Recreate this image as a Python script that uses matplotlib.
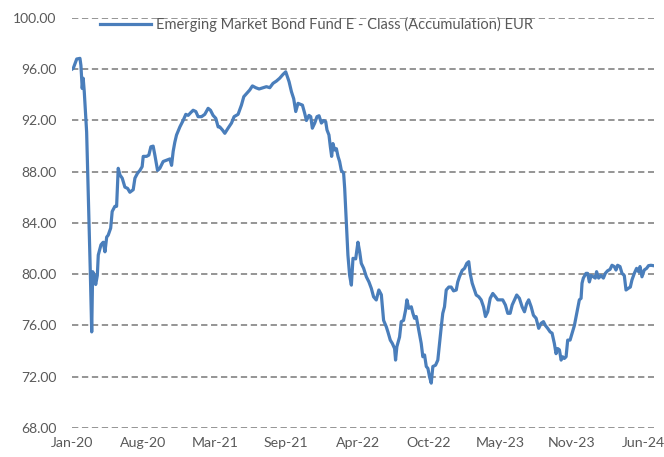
import matplotlib
matplotlib.use("Agg")
import matplotlib.pyplot as plt
import numpy as np

# months since the start of Jan-20, and the fund price
months = [
    0.0, 0.12, 0.44, 0.74, 0.83, 0.95, 1.04, 1.14, 1.36, 1.58, 1.70, 1.83, 1.92, 2.07, 2.20,
    2.35, 2.44, 2.69, 2.90, 3.06, 3.22, 3.36, 3.59, 3.73, 3.98, 4.14, 4.29, 4.45, 4.66, 4.91,
    5.16, 5.37, 5.68, 5.84, 6.09, 6.30, 6.51, 6.61, 6.92, 7.13, 7.32, 7.53, 7.69, 7.94, 8.15,
    8.46, 8.77, 9.08, 9.24, 9.39, 9.54, 9.70, 10.01, 10.31, 10.56, 10.78, 11.00, 11.24, 11.49,
    11.70, 12.02, 12.32, 12.63, 12.85, 13.09, 13.34, 13.56, 13.71, 13.96, 14.18, 14.48, 14.80,
    15.04, 15.41, 15.72, 15.94, 16.19, 16.49, 16.74, 17.05, 17.36, 17.73, 18.04, 18.35, 18.65,
    18.97, 19.27, 19.58, 19.83, 20.14, 20.36, 20.57, 20.76, 20.97, 21.19, 21.38, 21.59, 21.75,
    21.99, 22.15, 22.30, 22.52, 22.73, 22.92, 23.14, 23.35, 23.54, 23.66, 23.84, 23.97, 24.09,
    24.21, 24.37, 24.53, 24.68, 24.83, 24.99, 25.20, 25.30, 25.45, 25.60, 25.76, 25.92, 26.07,
    26.32, 26.53, 26.69, 26.84, 27.06, 27.31, 27.55, 27.77, 27.98, 28.23, 28.47, 28.70, 28.91,
    29.16, 29.31, 29.53, 29.72, 29.93, 30.02, 30.14, 30.39, 30.55, 30.76, 30.95, 31.07, 31.25,
    31.48, 31.63, 31.78, 31.94, 32.18, 32.40, 32.55, 32.71, 32.87, 33.02, 33.17, 33.33, 33.48,
    33.73, 33.94, 34.10, 34.26, 34.40, 34.56, 34.72, 34.96, 35.18, 35.40, 35.65, 35.79, 35.95,
    36.20, 36.42, 36.63, 36.81, 36.94, 37.13, 37.34, 37.50, 37.74, 37.96, 38.18, 38.36, 38.57,
    38.80, 39.04, 39.29, 39.50, 39.72, 39.96, 40.21, 40.43, 40.65, 40.84, 41.05, 41.26, 41.51,
    41.76, 41.98, 42.19, 42.37, 42.60, 42.81, 43.06, 43.30, 43.52, 43.74, 43.92, 44.13, 44.36,
    44.54, 44.75, 44.91, 45.06, 45.22, 45.38, 45.52, 45.68, 45.84, 45.99, 46.21, 46.40, 46.61,
    46.77, 46.92, 47.07, 47.23, 47.32, 47.44, 47.69, 47.84, 48.00, 48.16, 48.37, 48.55, 48.67,
    48.86, 49.08, 49.30, 49.48, 49.69, 49.92, 50.10, 50.31, 50.47, 50.62, 50.84, 51.03, 51.24,
    51.40, 51.61, 51.80, 51.95, 52.17, 52.38, 52.57, 52.70, 52.88, 53.09, 53.31, 53.49, 53.71,
    53.93,
]
price = [
    96.0, 96.07, 96.8, 96.85, 96.3, 94.5, 95.3, 94.25, 91.1, 84.1, 80.2, 75.5, 80.2, 79.9, 79.2,
    79.9, 81.5, 82.3, 82.5, 81.75, 82.9, 83.05, 83.6, 84.9, 85.3, 85.3, 88.27, 87.75, 87.5, 86.8,
    86.7, 86.4, 86.6, 87.5, 87.9, 88.1, 88.4, 89.2, 89.2, 89.3, 89.95, 90.0, 89.3, 88.1, 88.27,
    88.8, 88.9, 89.0, 88.5, 89.6, 90.3, 90.87, 91.5, 92.0, 92.48, 92.4, 92.6, 92.8, 92.7,
    92.3, 92.3, 92.48, 92.95, 92.8, 92.4, 92.17, 91.5, 91.5, 91.26, 91.0, 91.4, 91.8,
    92.3, 92.48, 93.2, 93.86, 94.1, 94.38, 94.7, 94.56, 94.46, 94.56, 94.64, 94.56, 94.9,
    95.08, 95.3, 95.6, 95.8, 95.03, 94.25, 93.7, 92.7, 93.34, 93.26, 93.2, 92.56, 92.0,
    92.4, 92.3, 91.4, 91.8, 92.3, 92.37, 91.8, 92.0, 91.9, 91.26, 90.87, 89.95, 89.2,
    90.2, 89.7, 89.8, 89.2, 88.8, 88.1, 87.9, 86.7, 84.1, 81.5, 79.9, 79.15, 81.24,
    81.2, 82.5, 81.75, 80.85, 80.46, 79.8, 79.4, 78.9, 78.24, 77.99, 78.77, 78.4, 76.4,
    75.9, 75.5, 74.86, 74.6, 74.2, 73.3, 74.34, 75.1, 76.3, 76.4, 77.2, 78.0, 77.34,
    77.46, 76.95, 76.56, 76.7, 75.6, 74.6, 73.56, 73.7, 72.8, 72.65, 72.0, 71.5, 72.8,
    72.9, 73.3, 74.6, 75.9, 76.95, 77.46, 78.77, 79.0, 79.0, 78.7, 78.77, 79.4, 79.8,
    80.3, 80.46, 80.85, 80.98, 80.07, 79.3, 78.77, 78.38, 78.24, 78.0, 77.46, 76.7, 77.07,
    78.12, 78.5, 78.24, 78.0, 78.0, 78.0, 77.6, 76.95, 76.95, 77.6, 78.0, 78.38, 78.12,
    77.46, 77.07, 77.72, 78.0, 77.46, 76.8, 76.56, 75.78, 76.17, 76.3, 76.0, 75.78, 75.5,
    75.4, 74.6, 73.8, 74.2, 74.1, 73.3, 73.56, 73.43, 73.56, 74.86, 74.86, 75.4, 76.0,
    76.7, 77.34, 78.0, 78.12, 79.3, 79.7, 80.07, 80.07, 79.4, 79.9, 79.8, 79.7, 80.2,
    79.7, 79.9, 79.7, 80.07, 80.27, 80.38, 80.7, 80.6, 80.33, 80.7, 80.6, 80.07, 79.9,
    78.77, 78.9, 79.0, 79.55, 80.07, 80.46, 80.2, 80.6, 79.8, 80.33, 80.46, 80.67, 80.7,
    80.67,
]
tick_labels = ["Jan-20", "Aug-20", "Mar-21", "Sep-21", "Apr-22", "Oct-22", "May-23", "Nov-23", "Jun-24"]
series_name = "Emerging Market Bond Fund E - Class (Accumulation) EUR"

plt.rcParams["font.family"] = ["Lato", "DejaVu Sans"]

figure = plt.figure(figsize=(6.64, 4.57), dpi=100)
ax = figure.add_axes([0.1084, 0.0635, 0.8766, 0.8971])

ax.plot(months, price, color="#4a7ebb", linewidth=2.3, label=series_name)

ax.set_ylim(68, 100)
ax.set_yticks(np.arange(68, 101, 4))
ax.set_yticklabels([f"{v:.2f}" for v in np.arange(68, 101, 4)])
ax.set_xlim(0, 54)
ax.set_xticks(np.linspace(0, 53, len(tick_labels)))
ax.set_xticklabels(tick_labels)

ax.grid(axis="y", color="#8c8c8c", linestyle=(0, (3.5, 2)), linewidth=1.3)
ax.set_axisbelow(True)
for side in ax.spines.values():
    side.set_visible(False)
ax.tick_params(axis="y", length=0, pad=11, labelsize=10, labelcolor="#595959")
ax.tick_params(axis="x", length=0, pad=6.5, labelsize=10.2, labelcolor="#595959")

ax.legend(loc="center left", bbox_to_anchor=(0.036, 0.985), frameon=False, borderpad=0,
          handlelength=3.5, handletextpad=0.35, fontsize=10.5, labelcolor="#595959")

figure.savefig("out.png", dpi=100)
